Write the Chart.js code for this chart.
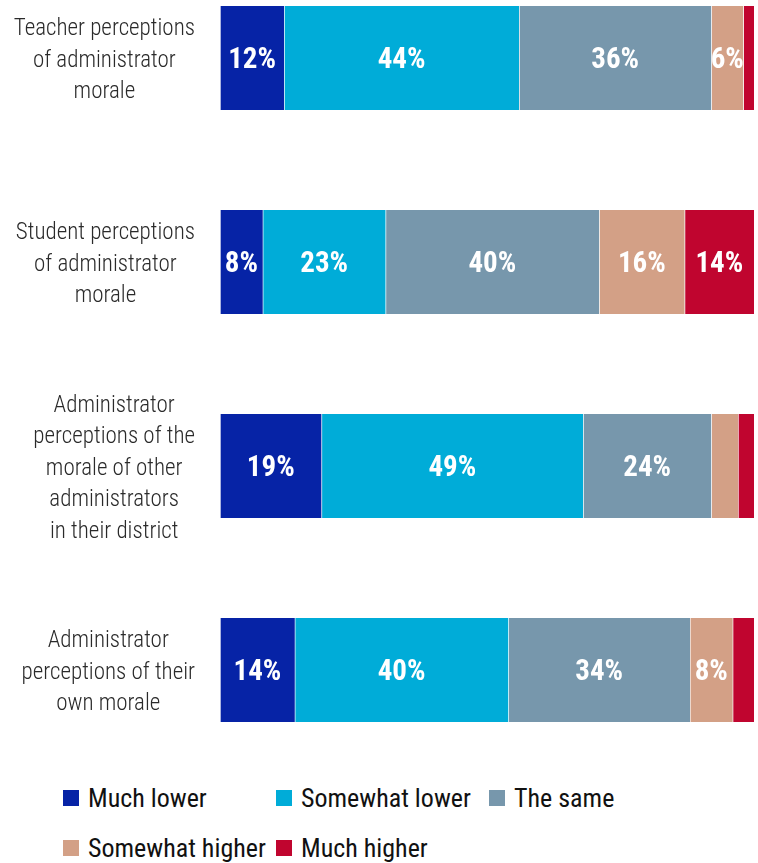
<!DOCTYPE html>
<html>
<head>
<meta charset="utf-8">
<script src="https://cdn.jsdelivr.net/npm/chart.js@4/dist/chart.umd.min.js"></script>
<style>
  body { margin: 0; background: #fff; }
  #wrap { position: relative; width: 758px; height: 775px; }
  #legend {
    display: grid;
    grid-template-columns: 213px 213px 213px;
    grid-auto-rows: 50px;
    padding-left: 63px;
    margin-top: -2px;
    font-family: 'Roboto Condensed', 'Liberation Sans Narrow', Roboto, sans-serif;
    font-size: 26px;
    color: #111;
  }
  #legend div { display: flex; align-items: center; white-space: nowrap; }
  #legend span { display: inline-block; width: 16px; height: 16px; margin-right: 9px; }
</style>
</head>
<body>
<div id="wrap"><canvas id="moraleChart"></canvas></div>
<div id="legend"></div>
<script>
const FONT = "'Roboto Condensed', 'Liberation Sans Narrow', Roboto, sans-serif";

// groups on the y axis (one array entry per text line)
const categories = [
    ['Teacher perceptions', 'of administrator', 'morale'],
    ['Student perceptions', 'of administrator', 'morale'],
    ['Administrator', 'perceptions of the', 'morale of other', 'administrators', 'in their district'],
    ['Administrator', 'perceptions of their', 'own morale']
];

const seriesNames = ['Much lower', 'Somewhat lower', 'The same', 'Somewhat higher', 'Much higher'];
const seriesColors = ['#0623a6', '#00acd8', '#7797ac', '#d3a086', '#c0052f'];

// percentages per group
const muchLower = [12, 8, 19, 14];
const somewhatLower = [44, 23, 49, 40];
const theSame = [36, 40, 24, 34];
const somewhatHigher = [6, 16, 5, 8];
const muchHigher = [2, 14, 3, 4];

const seriesValues = [muchLower, somewhatLower, theSame, somewhatHigher, muchHigher];

// white percentage labels inside the wider segments
const barLabels = {
    id: 'barLabels',
    afterDatasetsDraw(chart) {
        const ctx = chart.ctx;
        const area = chart.chartArea;
        ctx.save();
        ctx.font = 'bold 29px ' + FONT;
        ctx.fillStyle = '#fff';
        ctx.textAlign = 'center';
        ctx.textBaseline = 'middle';
        chart.data.datasets.forEach((ds, i) => {
            chart.getDatasetMeta(i).data.forEach((bar, j) => {
                const v = ds.data[j];
                if (v < 6) return;
                const right = Math.min(bar.x, area.right);
                ctx.fillText(v + '%', (bar.base + right) / 2, bar.y + 3);
            });
        });
        ctx.restore();
    }
};

// category text: each block sits against the bars, lines centred inside the block
const groupLabels = {
    id: 'groupLabels',
    afterDraw(chart) {
        const ctx = chart.ctx;
        const yScale = chart.scales.y;
        const rightEdge = chart.chartArea.left - 25;
        const lineH = 31.6;
        ctx.save();
        ctx.font = '300 23px ' + FONT;
        ctx.fillStyle = '#2a2a2a';
        ctx.textAlign = 'center';
        ctx.textBaseline = 'middle';
        chart.data.labels.forEach((lines, i) => {
            const cy = yScale.getPixelForValue(i) + 3;
            const w = Math.max(...lines.map(t => ctx.measureText(t).width));
            const cx = rightEdge - w / 2;
            lines.forEach((t, k) => {
                ctx.fillText(t, cx, cy + (k - (lines.length - 1) / 2) * lineH);
            });
        });
        ctx.restore();
    }
};

new Chart(document.getElementById('moraleChart'), {
    type: 'bar',
    data: {
        labels: categories,
        datasets: seriesNames.map((name, i) => ({
            label: name,
            data: seriesValues[i],
            backgroundColor: seriesColors[i],
            borderColor: 'rgba(255,255,255,0.35)',
            borderWidth: { left: 1 },
            borderSkipped: false,
            barThickness: 104,
            clip: { left: 0, right: 0, top: false, bottom: false }
        }))
    },
    options: {
        indexAxis: 'y',
        responsive: true,
        maintainAspectRatio: false,
        animation: false,
        layout: { padding: { top: 58, bottom: 105, left: 0, right: 4 } },
        scales: {
            x: {
                stacked: true,
                min: 0,
                max: 100,
                display: false
            },
            y: {
                stacked: true,
                offset: false,
                grid: { display: false, drawTicks: false },
                border: { display: false },
                afterFit(scale) {
                    scale.width = 220;
                    scale.paddingTop = 0;
                    scale.paddingBottom = 0;
                },
                ticks: { display: false }
            }
        },
        plugins: {
            legend: { display: false },
            tooltip: { enabled: false }
        }
    },
    plugins: [barLabels, groupLabels]
});

// legend laid out in fixed columns below the chart
const legendEl = document.getElementById('legend');
seriesNames.forEach((name, i) => {
    const item = document.createElement('div');
    const box = document.createElement('span');
    box.style.background = seriesColors[i];
    item.appendChild(box);
    item.appendChild(document.createTextNode(name));
    legendEl.appendChild(item);
});
</script>
</body>
</html>
